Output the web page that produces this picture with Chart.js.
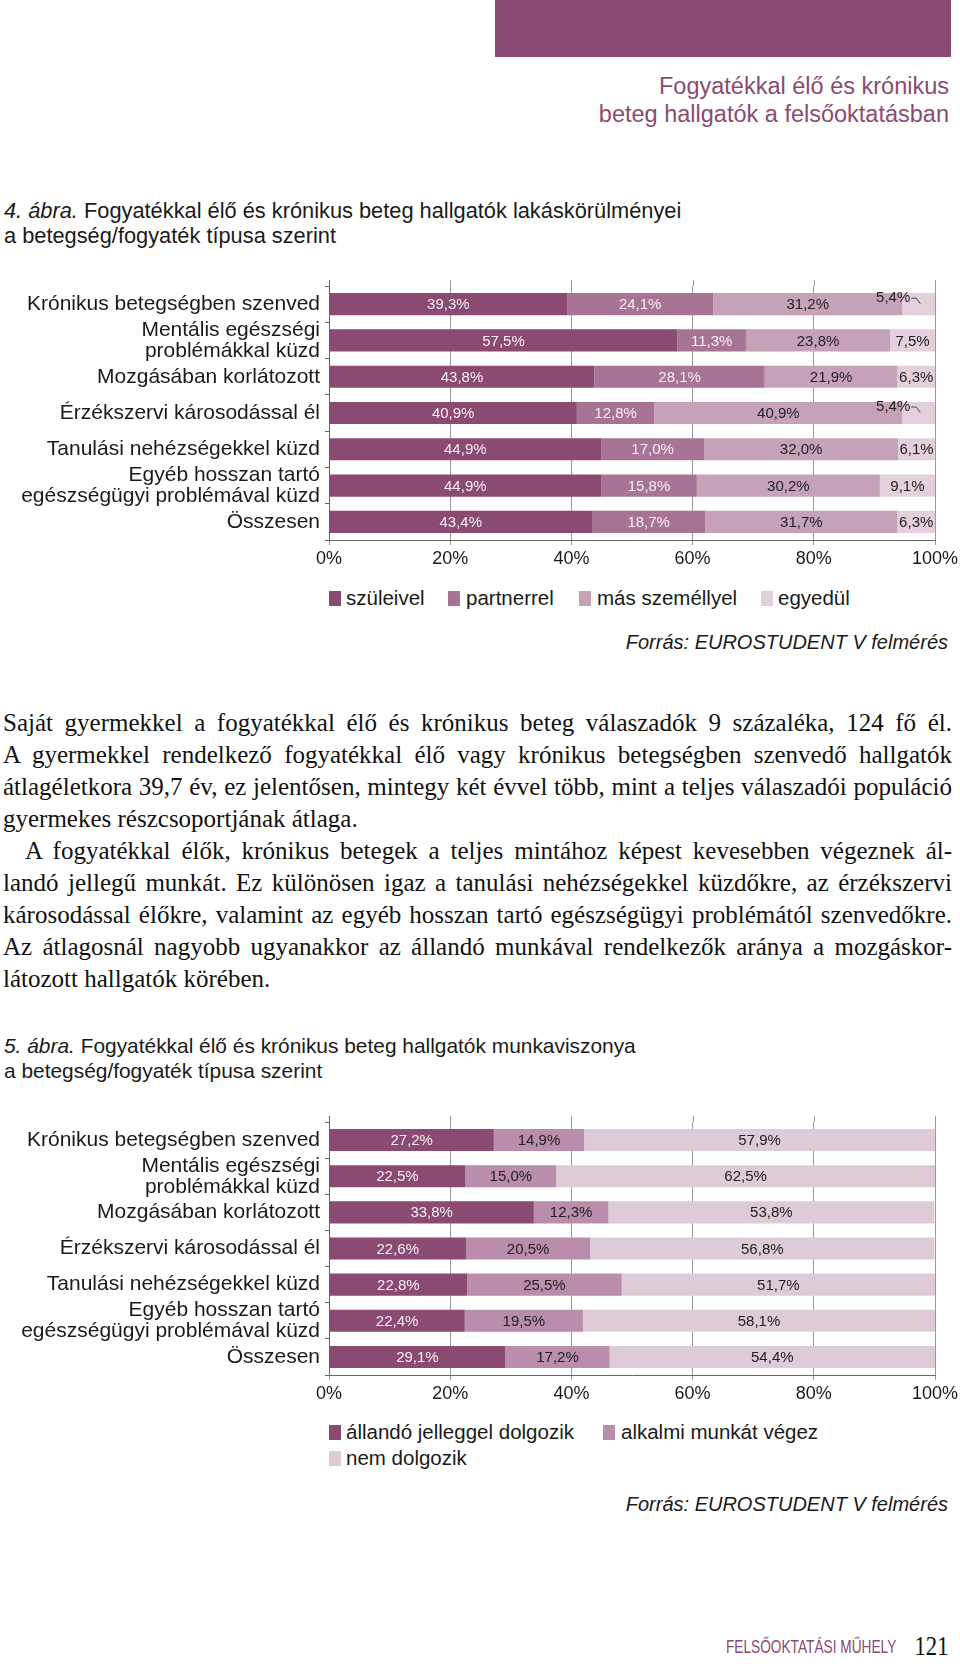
<!DOCTYPE html>
<html lang="hu">
<head>
<meta charset="utf-8">
<script src="https://cdn.jsdelivr.net/npm/chart.js@4.4.1/dist/chart.umd.min.js"></script>
<style>
  html, body { margin: 0; padding: 0; background: #fff; }
  body { width: 960px; height: 1666px; position: relative; overflow: hidden;
         font-family: "Liberation Sans", Arial, Helvetica, sans-serif; color: #1a1a1a; }
  .abs { position: absolute; white-space: nowrap; }
  .topbar { position: absolute; left: 495px; top: 0; width: 456px; height: 57px; background: #8a4a72; }
  .head { position: absolute; right: 11px; text-align: right; font-size: 23.5px; color: #8a4a72; line-height: 28px; }
  .cap { position: absolute; left: 4px; font-size: 21.8px; line-height: 25px; color: #1a1a1a; white-space: nowrap; }
  .cap i { font-style: italic; }
  .src { position: absolute; right: 12px; font-size: 20px; font-style: italic; line-height: 24px; }
  .leg { position: absolute; font-size: 20.5px; line-height: 24px; }
  .sw { position: absolute; width: 12px; height: 15px; }
  .body { position: absolute; left: 3px; width: 949px; font-family: "Liberation Serif", "Times New Roman", serif;
          font-size: 25px; color: #111; }
  .body div { height: 32px; line-height: 32px; white-space: nowrap; }
  .body .j { text-align: justify; text-align-last: justify; }
  canvas { position: absolute; left: 0; }
</style>
</head>
<body>
<div class="topbar"></div>
<div class="head" style="top:72px">Fogyatékkal élő és krónikus<br>beteg hallgatók a felsőoktatásban</div>

<div class="cap" style="top:198px"><i>4. ábra.</i> Fogyatékkal élő és krónikus beteg hallgatók lakáskörülményei<br>a betegség/fogyaték típusa szerint</div>

<canvas id="c1" width="960" height="300" style="top:270px"></canvas>

<div id="leg1"></div>
<div class="src" style="top:630px">Forrás: EUROSTUDENT V felmérés</div>

<div class="body" style="top:707px">
  <div class="j">Saját gyermekkel a fogyatékkal élő és krónikus beteg válaszadók 9 százaléka, 124 fő él.</div>
  <div class="j">A gyermekkel rendelkező fogyatékkal élő vagy krónikus betegségben szenvedő hallgatók</div>
  <div class="j">átlagéletkora 39,7 év, ez jelentősen, mintegy két évvel több, mint a teljes válaszadói populáció</div>
  <div>gyermekes részcsoportjának átlaga.</div>
  <div class="j" style="padding-left:22px">A fogyatékkal élők, krónikus betegek a teljes mintához képest kevesebben végeznek ál-</div>
  <div class="j">landó jellegű munkát. Ez különösen igaz a tanulási nehézségekkel küzdőkre, az érzékszervi</div>
  <div class="j">károsodással élőkre, valamint az egyéb hosszan tartó egészségügyi problémától szenvedőkre.</div>
  <div class="j">Az átlagosnál nagyobb ugyanakkor az állandó munkával rendelkezők aránya a mozgáskor-</div>
  <div>látozott hallgatók körében.</div>
</div>

<div class="cap" style="top:1033px; font-size:20.9px"><i>5. ábra.</i> Fogyatékkal élő és krónikus beteg hallgatók munkaviszonya<br>a betegség/fogyaték típusa szerint</div>

<canvas id="c2" width="960" height="300" style="top:1105px"></canvas>

<div id="leg2"></div>
<div class="src" style="top:1492px">Forrás: EUROSTUDENT V felmérés</div>

<div class="abs" style="left:726px; top:1634px; font-size:19px; color:#8a4a72; transform:scaleX(0.72); transform-origin:left center; line-height:26px;">FELSŐOKTATÁSI MŰHELY</div>
<div class="abs" style="right:12px; top:1630px; font-family:'Liberation Serif','Times New Roman',serif; font-size:27px; color:#111; transform:scaleX(0.84); transform-origin:right center; line-height:32px;">121</div>

<script>
// ---------- data ----------
const categories = [
  'Krónikus betegségben szenved',
  ['Mentális egészségi', 'problémákkal küzd'],
  'Mozgásában korlátozott',
  'Érzékszervi károsodással él',
  'Tanulási nehézségekkel küzd',
  ['Egyéb hosszan tartó', 'egészségügyi problémával küzd'],
  'Összesen'
];
const xTicks = [0, 20, 40, 60, 80, 100];

// Chart 1: lakáskörülmények
const series1Names = ['szüleivel', 'partnerrel', 'más személlyel', 'egyedül'];
const szuleivel     = [39.3, 57.5, 43.8, 40.9, 44.9, 44.9, 43.4];
const partnerrel    = [24.1, 11.3, 28.1, 12.8, 17.0, 15.8, 18.7];
const masSzemellyel = [31.2, 23.8, 21.9, 40.9, 32.0, 30.2, 31.7];
const egyedul       = [5.4, 7.5, 6.3, 5.4, 6.1, 9.1, 6.3];

// Chart 2: munkaviszony
const series2Names = ['állandó jelleggel dolgozik', 'alkalmi munkát végez', 'nem dolgozik'];
const allando     = [27.2, 22.5, 33.8, 22.6, 22.8, 22.4, 29.1];
const alkalmi     = [14.9, 15.0, 12.3, 20.5, 25.5, 19.5, 17.2];
const nemDolgozik = [57.9, 62.5, 53.8, 56.8, 51.7, 58.1, 54.4];

// ---------- styles ----------
const C_DARK = '#8a4a72';
const colors1 = [C_DARK, '#a87496', '#c6a2b9', '#e3d0dc'];
const colors2 = [C_DARK, '#b98dab', '#ddcbd7'];
const labelColors1 = ['#f6eef3', '#f6eef3', '#222', '#222'];
const labelColors2 = ['#f6eef3', '#222', '#222'];
const FONT = '"Liberation Sans", Arial, Helvetica, sans-serif';
const GRID = '#9a9a9a';
const AXIS = '#666';

function fmt(v) { return v.toFixed(1).replace('.', ',') + '%'; }

const segLabels = {
  id: 'segLabels',
  afterDatasetsDraw(chart, args, opts) {
    const ctx = chart.ctx;
    ctx.save();
    ctx.font = '15px ' + FONT;
    ctx.textBaseline = 'middle';
    chart.data.datasets.forEach((ds, di) => {
      const meta = chart.getDatasetMeta(di);
      meta.data.forEach((bar, i) => {
        const v = ds.data[i];
        const left = Math.min(bar.base, bar.x);
        const right = Math.min(Math.max(bar.base, bar.x), chart.chartArea.right);
        ctx.fillStyle = opts.colors[di];
        if (opts.callout && v < opts.callout) {
          const ty = bar.y - 6.5;
          ctx.fillStyle = '#222';
          ctx.textAlign = 'right';
          ctx.fillText(fmt(v), left + 8, ty);
          ctx.strokeStyle = '#444';
          ctx.lineWidth = 1;
          ctx.beginPath();
          ctx.moveTo(left + 9, ty + 0.5);
          ctx.lineTo(left + 14, ty + 0.5);
          ctx.lineTo(left + 18, ty + 6);
          ctx.stroke();
        } else {
          ctx.textAlign = 'center';
          ctx.fillText(fmt(v), (left + right) / 2, bar.y + 1);
        }
      });
    });
    ctx.restore();
  }
};

const gridExt = {
  id: 'gridExt',
  beforeDatasetsDraw(chart) {
    const ctx = chart.ctx, xs = chart.scales.x, top = chart.chartArea.top;
    ctx.save();
    ctx.lineWidth = 1;
    xs.ticks.forEach((t, k) => {
      const x = Math.round(xs.getPixelForValue(t.value)) + 0.5;
      ctx.strokeStyle = k === 0 ? AXIS : GRID;
      ctx.beginPath();
      ctx.moveTo(x, top - 6);
      ctx.lineTo(x, top);
      ctx.stroke();
    });
    ctx.restore();
  }
};

function makeChart(id, names, seriesData, colors, labelColors, callout) {
  return new Chart(document.getElementById(id), {
    type: 'bar',
    data: {
      labels: categories,
      datasets: seriesData.map((d, k) => ({
        label: names[k],
        data: d,
        backgroundColor: colors[k],
        borderWidth: 0,
        barPercentage: 0.61,
        categoryPercentage: 1.0
      }))
    },
    options: {
      indexAxis: 'y',
      responsive: false,
      animation: false,
      devicePixelRatio: 1,
      layout: { padding: { top: id === 'c1' ? 16 : 17, right: 25, left: 0, bottom: 0 } },
      plugins: {
        legend: { display: false },
        tooltip: { enabled: false },
        segLabels: { colors: labelColors, callout: callout }
      },
      scales: {
        x: {
          type: 'linear', stacked: true, min: 0, max: 100,
          afterBuildTicks: (s) => { s.ticks = xTicks.map(v => ({ value: v })); },
          afterFit: (s) => { s.height = 30; s.paddingLeft = 0; s.paddingRight = 0; },
          ticks: { callback: (v) => v + '%', font: { family: FONT, size: 18 }, color: '#1a1a1a', padding: 3, maxRotation: 0 },
          grid: { color: GRID, tickLength: 5, drawTicks: true, lineWidth: 1 },
          border: { display: true, color: AXIS, width: 1 }
        },
        y: {
          type: 'category', stacked: true,
          afterFit: (s) => { s.width = 329; s.paddingTop = 0; s.paddingBottom = 0; },
          ticks: { font: { family: FONT, size: 21, lineHeight: 1.0 }, color: '#1a1a1a', padding: 5, autoSkip: false },
          grid: { drawOnChartArea: false, tickLength: 4, color: AXIS, offset: true },
          border: { display: true, color: AXIS, width: 1 }
        }
      }
    },
    plugins: [gridExt, segLabels]
  });
}

makeChart('c1', series1Names, [szuleivel, partnerrel, masSzemellyel, egyedul], colors1, labelColors1, 6);
makeChart('c2', series2Names, [allando, alkalmi, nemDolgozik], colors2, labelColors2, 0);

// ---------- HTML legends ----------
function legend(containerId, names, colors, items) {
  const el = document.getElementById(containerId);
  names.forEach((n, k) => {
    const it = items[k];
    const sw = document.createElement('div');
    sw.className = 'sw';
    sw.style.left = it[0] + 'px';
    sw.style.top = (it[2] - 7.5) + 'px';
    sw.style.background = colors[k];
    el.appendChild(sw);
    const t = document.createElement('div');
    t.className = 'leg';
    t.textContent = n;
    t.style.left = it[1] + 'px';
    t.style.top = (it[2] - 12) + 'px';
    el.appendChild(t);
  });
}
legend('leg1', series1Names, colors1, [[329, 346, 598], [448, 466, 598], [579, 597, 598], [761, 778, 598]]);
legend('leg2', series2Names, colors2, [[329, 346, 1432], [603, 621, 1432], [329, 346, 1458]]);
</script>
</body>
</html>
